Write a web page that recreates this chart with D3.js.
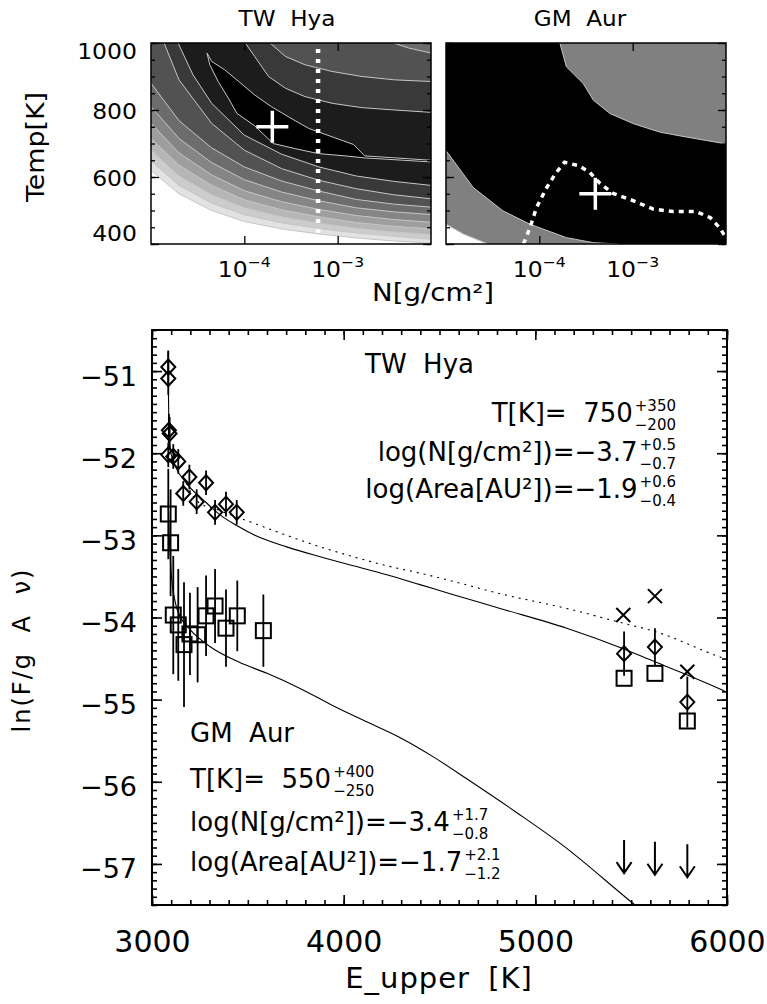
<!DOCTYPE html>
<html lang="en">
<head>
  <meta charset="UTF-8">
  <title>TW Hya / GM Aur</title>
  <script src="https://d3js.org/d3.v7.min.js"></script>
  <style>
    body { margin: 0; background: #fff; }
    svg text { font-family: "DejaVu Sans", sans-serif; fill: #000; white-space: pre; }
  </style>
</head>
<body>
<div id="chart"></div>
<script>
// ---------- top panels: contour boundaries, [log10 N, T] ----------
// TW Hya, lower-left family of contours (level 1 = outermost)
var twLower = [
  [[-5,620],[-4.7,550],[-4.35,500],[-4,467],[-3.6,445],[-3.2,430],[-2.8,418],[-2.4,409],[-2,403]],
  [[-5,648],[-4.7,575],[-4.35,522],[-4,487],[-3.6,463],[-3.2,446],[-2.8,433],[-2.4,423],[-2,414]],
  [[-5,680],[-4.7,603],[-4.35,547],[-4,508],[-3.6,481],[-3.2,462],[-2.8,447],[-2.4,436],[-2,428]],
  [[-5,715],[-4.7,635],[-4.35,575],[-4,532],[-3.6,502],[-3.2,481],[-2.8,464],[-2.4,453],[-2,445]],
  [[-5,760],[-4.7,672],[-4.35,606],[-4,559],[-3.6,526],[-3.2,503],[-2.8,485],[-2.4,473],[-2,465]],
  [[-5,810],[-4.7,715],[-4.35,643],[-4,592],[-3.6,555],[-3.2,529],[-2.8,508],[-2.4,496],[-2,488]],
  [[-5,880],[-4.7,768],[-4.35,687],[-4,630],[-3.6,588],[-3.2,558],[-2.8,533],[-2.4,519],[-2,510]],
  [[-4.86,1000],[-4.7,890],[-4.35,760],[-4,680],[-3.6,625],[-3.2,590],[-2.8,565],[-2.4,547],[-2,535]],
  [[-4.71,1000],[-4.55,905],[-4.35,820],[-4,725],[-3.6,668],[-3.2,630],[-2.8,603],[-2.4,587],[-2,575]]
];
// upper-right side of the same levels (only the inner three enter the box)
var twUpper = [null, null, null, null, null, null,
  [[-2.40,1000],[-2.24,985],[-2,970]],
  [[-3.725,1000],[-3.56,960],[-3.35,935],[-3.06,915],[-2.74,900],[-2.39,890],[-2,885]],
  [[-3.99,1000],[-3.89,960],[-3.74,900],[-3.56,865],[-3.35,840],[-3.06,820],[-2.74,807],[-2.39,800],[-2,793]]
];
var twIsland = [[-4.40,970],[-4.35,945],[-4.21,920],[-4.06,885],[-3.89,845],[-3.71,810],[-3.53,780],
  [-3.31,745],[-3.06,720],[-2.83,697],[-2.71,663],[-2.0,650],[-2.0,645],[-2.71,657],[-2.92,663],
  [-3.21,670],[-3.46,685],[-3.69,700],[-3.89,753],[-4.08,790],[-4.17,835],[-4.28,885],[-4.37,935]];
var twBest = [-3.7, 750];
var twDottedN = -3.21;

// GM Aur
var gmLow = [[-5,679],[-4.71,569],[-4.39,499],[-4.10,459],[-3.71,419],[-3.42,404],[-3.15,400]];
var gmWhite = [[-5,459],[-4.81,429],[-4.55,400]];
var gmHigh = [[-3.78,1000],[-3.71,929],[-3.53,879],[-3.42,829],[-3.24,789],[-2.99,759],[-2.71,734],[-2.42,719],[-2.0,699]];
var gmDotted = [[-4.17,400],[-4.10,449],[-4.03,509],[-3.92,569],[-3.83,609],[-3.73,644],[-3.58,634],
  [-3.46,614],[-3.35,581],[-3.21,551],[-2.99,529],[-2.78,504],[-2.57,497],[-2.32,497],[-2.17,479],
  [-2.07,449],[-2.0,419]];
var gmBest = [-3.4, 550];

var topXTicks = [1e-4, 1e-3];
var topYTicks = [400, 600, 800, 1000];

// ---------- main panel: [E_upper, ln(F/gA nu), error] ----------
var twDiamonds = [
  [3085,-50.95,0.2],[3085,-51.09,0.2],[3088,-51.72,0.2],[3092,-51.76,0.2],[3085,-52.02,0.15],
  [3111,-52.04,0.15],[3137,-52.10,0.15],[3163,-52.49,0.15],[3195,-52.29,0.15],[3233,-52.59,0.15],
  [3282,-52.36,0.15],[3329,-52.72,0.15],[3386,-52.62,0.15],[3442,-52.72,0.15],
  [5463,-54.44,0.27],[5624,-54.36,0.23],[5793,-55.03,0.31]
];
var twCrosses = [[5459,-53.97],[5624,-53.74],[5793,-54.66]];
var gmSquares = [
  [3085,-52.74,0.55],[3097,-53.09,0.65],[3111,-53.97,0.72],[3137,-54.09,0.68],[3167,-54.33,0.76],
  [3198,-54.2,0.5],[3238,-54.21,0.58],[3282,-53.98,0.49],[3329,-53.86,0.45],[3386,-54.13,0.47],
  [3445,-53.98,0.43],[3581,-54.16,0.44],
  [5463,-54.74,0],[5624,-54.68,0],[5793,-55.26,0]
];
var gmLimits = [[5463,-56.71],[5624,-56.73],[5793,-56.76]];

var twModel = [[3083,-50.76],[3086,-51.3],[3089,-51.75],[3095,-51.95],[3105,-52.05],[3120,-52.15],
  [3181,-52.37],[3268,-52.57],[3355,-52.75],[3442,-52.88],[3529,-52.99],[3703,-53.14],[3877,-53.26],
  [4050,-53.37],[4225,-53.48],[4398,-53.6],[4555,-53.71],[4816,-53.89],[5164,-54.13],[5459,-54.38],
  [5624,-54.54],[5793,-54.7],[5972,-54.88],[6000,-54.91]];
var twThin = [[3181,-52.37],[3233,-52.58],[3355,-52.7],[3529,-52.85],[3703,-53.0],[3877,-53.14],
  [4050,-53.26],[4225,-53.37],[4398,-53.46],[4555,-53.55],[4816,-53.71],[5164,-53.89],[5459,-54.07],
  [5624,-54.17],[5963,-54.48],[6000,-54.51]];
var gmModel = [[3085,-52.6],[3090,-53.0],[3100,-53.45],[3120,-53.8],[3150,-54.0],[3200,-54.15],
  [3300,-54.35],[3450,-54.54],[3600,-54.68],[3770,-54.86],[3950,-55.08],[4120,-55.27],[4300,-55.47],
  [4470,-55.7],[4640,-55.96],[4900,-56.37],[5130,-56.75],[5520,-57.5],[5600,-57.65]];

var mainXTicks = [3000, 4000, 5000, 6000];
var mainYTicks = [-57, -56, -55, -54, -53, -52, -51];

var twFit = [["T[K]=  750", "+350", "\u2212200"],
             ["log(N[g/cm\u00b2])=\u22123.7", "+0.5", "\u22120.7"],
             ["log(Area[AU\u00b2])=\u22121.9", "+0.6", "\u22120.4"]];
var gmFit = [["T[K]=  550", "+400", "\u2212250"],
             ["log(N[g/cm\u00b2])=\u22123.4", "+1.7", "\u22120.8"],
             ["log(Area[AU\u00b2])=\u22121.7", "+2.1", "\u22121.2"]];

// ---------------------------------------------------------------------
var W = 767, H = 1004;
var svg = d3.select("#chart").append("svg").attr("width", W).attr("height", H);
svg.append("rect").attr("width", W).attr("height", H).attr("fill", "#fff");
var defs = svg.append("defs");

// text helper, optionally widened (the top figure's lettering is wide)
function stext(x, y, s, size, anchor, sx, rot) {
  return svg.append("text")
    .attr("transform", "translate(" + x + "," + y + ")" + (rot ? " rotate(" + rot + ")" : "") +
      " scale(" + (sx || 1) + ",1)")
    .attr("font-size", size)
    .attr("text-anchor", anchor || "start")
    .text(s);
}

var yT = d3.scaleLinear().domain([400, 1000]).range([244, 43]);
var xL = d3.scaleLog().domain([1e-5, 1e-2]).range([151, 431]);
var xR = d3.scaleLog().domain([1e-5, 1e-2]).range([446, 726]);
var bandColors = ["#e2e2e2","#cccccc","#b6b6b6","#9e9e9e","#858585","#6c6c6c","#525252","#393939","#1c1c1c"];
var lineGray = "#c6c6c6";

function lineFor(xs) {
  return d3.line().x(function (d) { return xs(Math.pow(10, d[0])); }).y(function (d) { return yT(d[1]); });
}
function clipFor(id, xs) {
  defs.append("clipPath").attr("id", id).append("rect")
    .attr("x", xs.range()[0]).attr("y", yT(1000))
    .attr("width", xs.range()[1] - xs.range()[0]).attr("height", yT(400) - yT(1000));
}
clipFor("clipL", xL);
clipFor("clipR", xR);

// --- TW Hya contours
var lineL = lineFor(xL);
var gL = svg.append("g").attr("clip-path", "url(#clipL)");
gL.append("rect").attr("x", 151).attr("y", 43).attr("width", 280).attr("height", 201).attr("fill", "#fff");
twLower.forEach(function (low, i) {
  var up = twUpper[i];
  var poly = low.concat(up ? up.slice().reverse() : [[-2, 1000]]);
  if (low[0][0] === -5) poly.push([-5, 1000]);
  gL.append("path").attr("d", lineL(poly) + "Z").attr("fill", bandColors[i]);
});
twLower.concat(twUpper.filter(Boolean)).forEach(function (l) {
  gL.append("path").attr("d", lineL(l)).attr("fill", "none").attr("stroke", lineGray).attr("stroke-width", 1);
});
gL.append("path").attr("d", lineL(twIsland) + "Z").attr("fill", "#000").attr("stroke", lineGray).attr("stroke-width", 1);
gL.append("line")
  .attr("x1", xL(Math.pow(10, twDottedN))).attr("x2", xL(Math.pow(10, twDottedN)))
  .attr("y1", yT(1000) + 6).attr("y2", yT(400))
  .attr("stroke", "#fff").attr("stroke-width", 4.5).attr("stroke-dasharray", "4,6");

// --- GM Aur contours
var lineR = lineFor(xR);
var gR = svg.append("g").attr("clip-path", "url(#clipR)");
gR.append("rect").attr("x", 446).attr("y", 43).attr("width", 280).attr("height", 201).attr("fill", "#808080");
gR.append("path").attr("d", lineR(gmLow.concat([[-2, 400]], gmHigh.slice().reverse(), [[-5, 1000]])) + "Z")
  .attr("fill", "#000");
gR.append("path").attr("d", lineR(gmWhite.concat([[-5, 400]])) + "Z").attr("fill", "#fff");
[gmLow, gmHigh, gmWhite].forEach(function (l) {
  gR.append("path").attr("d", lineR(l)).attr("fill", "none").attr("stroke", lineGray).attr("stroke-width", 1);
});
gR.append("path").attr("d", lineR(gmDotted)).attr("fill", "none")
  .attr("stroke", "#fff").attr("stroke-width", 3.5).attr("stroke-dasharray", "5,5");

// best-fit crosses
[[xL, twBest], [xR, gmBest]].forEach(function (p) {
  var cx = p[0](Math.pow(10, p[1][0])), cy = yT(p[1][1]);
  svg.append("path").attr("d", "M" + (cx - 16) + "," + cy + "H" + (cx + 16) + "M" + cx + "," + (cy - 16) + "V" + (cy + 16))
    .attr("stroke", "#fff").attr("stroke-width", 3.5);
});

// top frames, ticks, labels
[xL, xR].forEach(function (xs) {
  var r = xs.range();
  svg.append("g").attr("class", "ax").attr("transform", "translate(0,244)")
    .call(d3.axisBottom(xs).tickValues(topXTicks).tickSize(-8).tickFormat(""));
  svg.append("g").attr("class", "ax").attr("transform", "translate(0,43)")
    .call(d3.axisTop(xs).tickValues(topXTicks).tickSize(-8).tickFormat(""));
  svg.append("g").attr("class", "ax").attr("transform", "translate(" + r[0] + ",0)")
    .call(d3.axisLeft(yT).tickValues(d3.range(400, 1001, 50)).tickSize(-4).tickFormat(""));
  svg.append("g").attr("class", "ax").attr("transform", "translate(" + r[0] + ",0)")
    .call(d3.axisLeft(yT).tickValues(topYTicks).tickSize(-8).tickFormat(""));
  svg.append("g").attr("class", "ax").attr("transform", "translate(" + r[1] + ",0)")
    .call(d3.axisRight(yT).tickValues(d3.range(400, 1001, 50)).tickSize(-4).tickFormat(""));
  svg.append("g").attr("class", "ax").attr("transform", "translate(" + r[1] + ",0)")
    .call(d3.axisRight(yT).tickValues(topYTicks).tickSize(-8).tickFormat(""));
  svg.append("rect").attr("x", r[0]).attr("y", 43).attr("width", r[1] - r[0]).attr("height", 201)
    .attr("fill", "none").attr("stroke", "#000").attr("stroke-width", 1.5);

  topXTicks.forEach(function (v) {
    var t = stext(xs(v), 277, "", 21, "middle", 1.12);
    t.append("tspan").text("10");
    t.append("tspan").attr("dy", -10).attr("font-size", 14).text("\u2212" + Math.round(-Math.log10(v)));
  });
});
topYTicks.forEach(function (v) {
  var dy = v === 1000 ? 16 : (v === 400 ? -3 : 9);
  stext(137, yT(v) + dy, String(v), 21, "end", 1.12);
});
stext(287, 26, "TW  Hya", 22, "middle", 1.05);
stext(580, 26, "GM  Aur", 22, "middle", 1.05);
stext(44, 147, "Temp[K]", 24, "middle", 1.12, -90);
stext(372, 301, "N[g/cm\u00b2]", 24, "start", 1.15);

// ---------- main panel ----------
var x = d3.scaleLinear().domain([3000, 6000]).range([152, 727]);
var y = d3.scaleLinear().domain([-57.5, -50.5]).range([905, 330]);
defs.append("clipPath").attr("id", "clipM").append("rect")
  .attr("x", 152).attr("y", 330).attr("width", 575).attr("height", 575);

var xMinor = d3.range(3000, 6001, 100);
var yMinor = d3.range(-575, -504).map(function (d) { return d / 10; });
function mainAx(axis, tr) {
  svg.append("g").attr("class", "ax main").attr("transform", tr).call(axis);
}
mainAx(d3.axisBottom(x).tickValues(xMinor).tickSize(-5).tickFormat(""), "translate(0,905)");
mainAx(d3.axisTop(x).tickValues(xMinor).tickSize(-5).tickFormat(""), "translate(0,330)");
mainAx(d3.axisTop(x).tickValues(mainXTicks).tickSize(-10).tickFormat(""), "translate(0,330)");
mainAx(d3.axisLeft(y).tickValues(yMinor).tickSize(-5).tickFormat(""), "translate(152,0)");
mainAx(d3.axisRight(y).tickValues(yMinor).tickSize(-5).tickFormat(""), "translate(727,0)");
mainAx(d3.axisRight(y).tickValues(mainYTicks).tickSize(-10).tickFormat(""), "translate(727,0)");

svg.append("g").attr("class", "ax main").attr("transform", "translate(0,905)")
  .call(d3.axisBottom(x).tickValues(mainXTicks).tickSize(-10).tickFormat(d3.format("d")))
  .call(function (g) {
    g.selectAll("text").attr("y", 47).attr("dy", null).attr("font-size", 30)
      .attr("font-family", "DejaVu Sans").attr("fill", "#000");
  });
svg.append("g").attr("class", "ax main").attr("transform", "translate(152,0)")
  .call(d3.axisLeft(y).tickValues(mainYTicks).tickSize(-10).tickFormat(d3.format("d")))
  .call(function (g) {
    g.selectAll("text").attr("x", -15).attr("dy", 14).attr("font-size", 27)
      .attr("font-family", "DejaVu Sans").attr("fill", "#000");
  });
svg.selectAll(".ax .domain").remove();
svg.selectAll(".ax line").attr("stroke-width", 1.3);
svg.selectAll(".ax.main line").attr("stroke-width", 1.6);

var gM = svg.append("g").attr("clip-path", "url(#clipM)");
var mline = d3.line().curve(d3.curveMonotoneX)
  .x(function (d) { return x(d[0]); }).y(function (d) { return y(d[1]); });
gM.append("path").attr("d", mline(twModel)).attr("fill", "none").attr("stroke", "#000").attr("stroke-width", 1.1);
gM.append("path").attr("d", mline(gmModel)).attr("fill", "none").attr("stroke", "#000").attr("stroke-width", 1.1);
gM.append("path").attr("d", mline(twThin)).attr("fill", "none").attr("stroke", "#000")
  .attr("stroke-width", 1.1).attr("stroke-dasharray", "2,5");

// error bars
twDiamonds.concat(gmSquares).filter(function (d) { return d[2] > 0; }).forEach(function (d) {
  gM.append("line").attr("x1", x(d[0])).attr("x2", x(d[0]))
    .attr("y1", y(d[1] + d[2])).attr("y2", y(d[1] - d[2]))
    .attr("stroke", "#000").attr("stroke-width", 1.8);
});
gM.selectAll(".dia").data(twDiamonds).enter().append("path")
  .attr("transform", function (d) { return "translate(" + x(d[0]) + "," + y(d[1]) + ")"; })
  .attr("d", "M0,-7.5L7,0L0,7.5L-7,0Z")
  .attr("fill", "none").attr("stroke", "#000").attr("stroke-width", 2);
gM.selectAll(".sq").data(gmSquares).enter().append("rect")
  .attr("x", function (d) { return x(d[0]) - 7.5; })
  .attr("y", function (d) { return y(d[1]) - 7.5; })
  .attr("width", 15).attr("height", 15)
  .attr("fill", "none").attr("stroke", "#000").attr("stroke-width", 2);
gM.selectAll(".xx").data(twCrosses).enter().append("path")
  .attr("transform", function (d) { return "translate(" + x(d[0]) + "," + y(d[1]) + ")"; })
  .attr("d", "M-7,-7L7,7M-7,7L7,-7")
  .attr("fill", "none").attr("stroke", "#000").attr("stroke-width", 2);
gM.selectAll(".lim").data(gmLimits).enter().append("path")
  .attr("transform", function (d) { return "translate(" + x(d[0]) + "," + y(d[1]) + ")"; })
  .attr("d", "M0,0V33M-7.5,22L0,33L7.5,22")
  .attr("fill", "none").attr("stroke", "#000").attr("stroke-width", 2);

svg.append("rect").attr("x", 152).attr("y", 330).attr("width", 575).attr("height", 575)
  .attr("fill", "none").attr("stroke", "#000").attr("stroke-width", 2);

// fit annotations
function annot(xp, yp, row, alignEnd) {
  var t = svg.append("text").attr("font-size", 26).text(row[0]);
  var a = svg.append("text").attr("font-size", 15).text(row[1]);
  var b = svg.append("text").attr("font-size", 15).text(row[2]);
  var w = t.node().getComputedTextLength();
  var ws = Math.max(a.node().getComputedTextLength(), b.node().getComputedTextLength());
  var x0 = alignEnd ? xp - w - ws - 2 : xp;
  t.attr("x", x0).attr("y", yp);
  a.attr("x", x0 + w + 2).attr("y", yp - 11);
  b.attr("x", x0 + w + 2).attr("y", yp + 8);
}
svg.append("text").attr("x", 365).attr("y", 373).attr("font-size", 26).text("TW  Hya");
[422, 461, 498].forEach(function (yy, i) { annot(676, yy, twFit[i], true); });
svg.append("text").attr("x", 190).attr("y", 742).attr("font-size", 26).text("GM  Aur");
[788, 831, 871].forEach(function (yy, i) { annot(190, yy, gmFit[i], false); });

// axis titles
svg.append("text").attr("transform", "translate(439,988)").attr("text-anchor", "middle")
  .attr("font-size", 29).attr("letter-spacing", 1).attr("word-spacing", 8).text("E_upper [K]");
svg.append("text").attr("transform", "translate(30,650) rotate(-90)").attr("text-anchor", "middle")
  .attr("font-size", 24).attr("letter-spacing", 2).attr("word-spacing", 10).text("ln(F/g A \u03bd)");
</script>
</body>
</html>
